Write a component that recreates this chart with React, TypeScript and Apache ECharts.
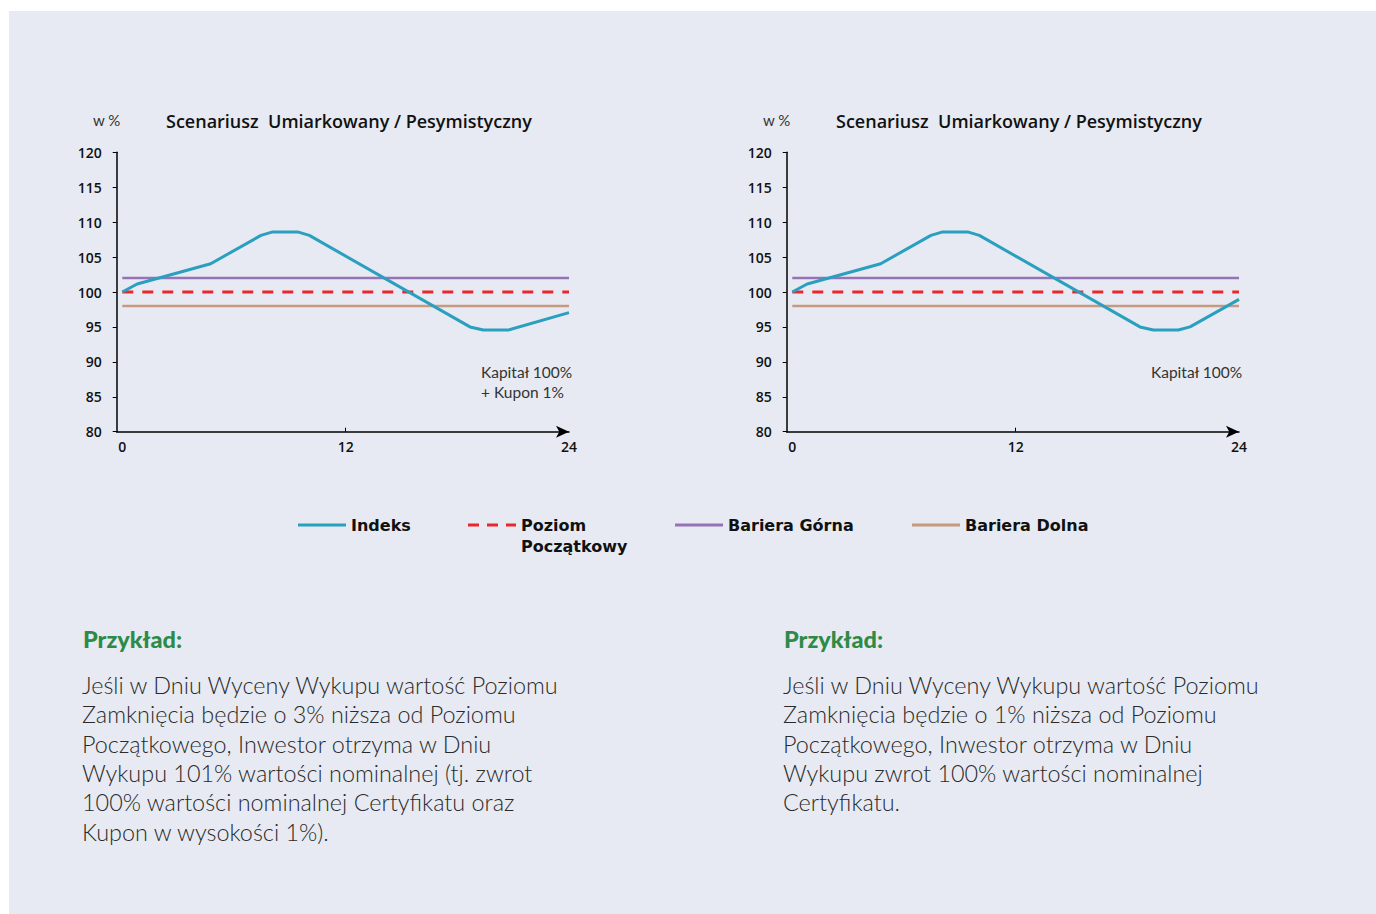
import React, { useEffect, useRef } from "react";
import * as echarts from "echarts";

// ---- data ----
const leftMonths = [0, 0.8, 4.75, 7.45, 8.08, 9.42, 10.05, 18.68, 19.4, 20.74, 24];
const leftIndex = [100, 101.15, 104.05, 108.1, 108.6, 108.6, 108.1, 95.0, 94.55, 94.55, 97.05];
const rightMonths = [0, 0.8, 4.75, 7.45, 8.08, 9.42, 10.05, 18.68, 19.4, 20.74, 21.37, 24];
const rightIndex = [100, 101.15, 104.05, 108.1, 108.6, 108.6, 108.1, 95.0, 94.55, 94.55, 95.0, 98.95];
const levelStart = 100;
const barrierUpper = 102;
const barrierLower = 98;
const xTickLabels = [0, 12, 24];
const seriesNames = ["Indeks", "Poziom Początkowy", "Bariera Górna", "Bariera Dolna"];
const chartTitle = "Scenariusz  Umiarkowany / Pesymistyczny";
const unitLabel = "w %";
const noteLeft = ["Kapitał 100%", "+ Kupon 1%"];
const noteRight = ["Kapitał 100%"];
const exampleHeading = "Przykład:";
const bodyLeft = [
  "Jeśli w Dniu Wyceny Wykupu wartość Poziomu",
  "Zamknięcia będzie o 3% niższa od Poziomu",
  "Początkowego, Inwestor otrzyma w Dniu",
  "Wykupu 101% wartości nominalnej (tj. zwrot",
  "100% wartości nominalnej Certyfikatu oraz",
  "Kupon w wysokości 1%).",
];
const bodyRight = [
  "Jeśli w Dniu Wyceny Wykupu wartość Poziomu",
  "Zamknięcia będzie o 1% niższa od Poziomu",
  "Początkowego, Inwestor otrzyma w Dniu",
  "Wykupu zwrot 100% wartości nominalnej",
  "Certyfikatu.",
];

const COLORS = {
  index: "#2a9fbf",
  start: "#e8282c",
  upper: "#9673b6",
  lower: "#c69a80",
  bg: "#e7eaf2",
  green: "#2e8a47",
};

const FONT = "Open Sans";
const LEGENDFONT = "DejaVu Sans";
const BODYFONT = "Lato";

// legend icons (48 x 3 boxes)
const SOLID_ICON = "path://M0,0h48v3h-48z";
const DASH_ICON = "path://M0,0h11v3h-11z M19,0h11v3h-11z M38,0h10v3h-10z M24,24h0.01v0.01h-0.01z";

export default function App() {
  const ref = useRef<HTMLDivElement>(null);
  useEffect(() => {
    if (!ref.current) return;
    const chart = echarts.init(ref.current, undefined, { renderer: "svg" });

    const gridLefts = [107.7, 777.7];
    const grids = gridLefts.map((l) => ({ left: l, top: 141.3, width: 452.3, height: 279.4 }));

    const xAxes = gridLefts.map((_, i) => ({
      type: "value",
      gridIndex: i,
      min: -0.3,
      max: 24,
      axisLine: {
        show: true,
        onZero: false,
        lineStyle: { color: "#000", width: 1.5 },
        symbol: ["none", "arrow"],
        symbolSize: [9, 13],
      },
      axisTick: { show: true, inside: true, length: 4, lineStyle: { color: "#000", width: 1 }, customValues: [12] },
      axisLabel: {
        customValues: xTickLabels,
        margin: 8,
        fontSize: 14,
        fontWeight: 600,
        color: "#111",
        fontFamily: FONT,
      },
      splitLine: { show: false },
    }));

    const yAxes = gridLefts.map((_, i) => ({
      type: "value",
      gridIndex: i,
      min: 80,
      max: 120,
      interval: 5,
      axisLine: { show: true, onZero: false, lineStyle: { color: "#000", width: 1.5 } },
      axisTick: { show: true, length: 4, lineStyle: { color: "#000", width: 1 } },
      axisLabel: { margin: 15, fontSize: 14, fontWeight: 600, color: "#111", fontFamily: FONT },
      splitLine: { show: false },
    }));

    const hLine = (name: string, v: number, color: string, i: number, dashed: boolean) => ({
      type: "line",
      name,
      xAxisIndex: i,
      yAxisIndex: i,
      symbol: "none",
      data: [
        [0, v],
        [24, v],
      ],
      lineStyle: { color, width: dashed ? 3 : 2.6, type: dashed ? [11, 9] : "solid" },
      itemStyle: { color },
      silent: true,
    });

    const series: any[] = [];
    [
      [leftMonths, leftIndex],
      [rightMonths, rightIndex],
    ].forEach(([mx, vy], i) => {
      series.push(hLine(seriesNames[2], barrierUpper, COLORS.upper, i, false));
      series.push(hLine(seriesNames[1], levelStart, COLORS.start, i, true));
      series.push(hLine(seriesNames[3], barrierLower, COLORS.lower, i, false));
      series.push({
        type: "line",
        name: seriesNames[0],
        xAxisIndex: i,
        yAxisIndex: i,
        symbol: "none",
        data: (mx as number[]).map((m, k) => [m, (vy as number[])[k]]),
        lineStyle: { color: COLORS.index, width: 3 },
        itemStyle: { color: COLORS.index },
      });
    });

    const legendLefts = [298 - 9, 468 - 9, 675 - 9, 912 - 9];
    const L = 21;
    const legends = seriesNames.map((n, k) => ({
      data: [n],
      left: legendLefts[k],
      top: 514 - L / 2,
      padding: 0,
      icon: k === 1 ? DASH_ICON : SOLID_ICON,
      symbolKeepAspect: false,
      itemWidth: 48,
      itemHeight: k === 1 ? 24 : 3,
      selectedMode: false,
      formatter: (name: string) => (name === "Poziom Początkowy" ? "Poziom\nPoczątkowy" : name),
      textStyle: {
        fontFamily: LEGENDFONT,
        fontSize: 16,
        fontWeight: "bold",
        color: "#111",
        lineHeight: L,
      },
    }));

    const titleLefts = [157, 827];
    const titles = titleLefts.map((l) => ({
      text: chartTitle,
      left: l,
      top: 101,
      padding: 0,
      textStyle: { fontFamily: FONT, fontSize: 18, fontWeight: 600, color: "#111" },
    }));

    const graphics: any[] = [];
    [84, 754].forEach((x) =>
      graphics.push({
        type: "text",
        left: x,
        top: 101,
        style: { text: unitLabel, fontFamily: BODYFONT, fontSize: 15, fill: "#333" },
      })
    );
    graphics.push({
      type: "text",
      left: 472,
      top: 351,
      style: { text: noteLeft.join("\n"), fontFamily: BODYFONT, fontSize: 15.5, lineHeight: 20, fill: "#333" },
    });
    graphics.push({
      type: "text",
      left: 1142,
      top: 351,
      style: { text: noteRight.join("\n"), fontFamily: BODYFONT, fontSize: 15.5, lineHeight: 20, fill: "#333" },
    });
    [
      [74, bodyLeft],
      [775, bodyRight],
    ].forEach(([x, lines]) => {
      graphics.push({
        type: "text",
        left: x as number,
        top: 616,
        style: { text: exampleHeading, fontFamily: BODYFONT, fontSize: 23.5, fontWeight: 900, fill: COLORS.green },
      });
      graphics.push({
        type: "text",
        left: (x as number) - 1,
        top: 659,
        style: {
          text: (lines as string[]).join("\n"),
          fontFamily: BODYFONT,
          fontSize: 23.4,
          fontWeight: 300,
          lineHeight: 29.4,
          fill: "#2a2a2a",
        },
      });
    });

    chart.setOption({
      animation: false,
      backgroundColor: COLORS.bg,
      title: titles,
      grid: grids,
      xAxis: xAxes,
      yAxis: yAxes,
      legend: legends,
      series,
      graphic: graphics,
    });
    return () => chart.dispose();
  }, []);

  return (
    <div
      ref={ref}
      style={{ position: "absolute", left: 9, top: 11, width: 1367, height: 903 }}
    />
  );
}
